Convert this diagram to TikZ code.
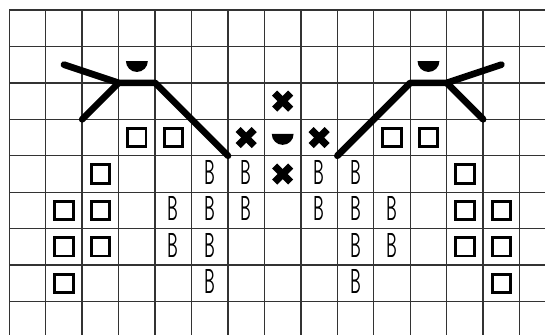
\documentclass[tikz,border=0pt]{standalone}
\usepackage{fontspec}

\begin{document}
\begin{tikzpicture}[
		gridline/.style={line width=1.1pt, black!80},
		heavy/.style={line width=5.2pt, line cap=round, line join=round},
		sq/.style={draw, line width=2.3pt, minimum size=0.5cm, inner sep=0pt},
		bee/.style={font=\sffamily\fontsize{27}{27}\selectfont, xscale=.5, transform shape, inner sep=0pt, yshift=.05cm},
		xmark/.style={minimum size=0.66cm, inner sep=0pt, path picture={
			\draw[line width=5.6pt] ([shift={(-.22,-.22)}]path picture bounding box.center) -- ([shift={(.22,.22)}]path picture bounding box.center);
			\draw[line width=5.6pt] ([shift={(-.22,.22)}]path picture bounding box.center) -- ([shift={(.22,-.22)}]path picture bounding box.center);
		}},
		hdisc/.style={minimum size=0.7cm, inner sep=0pt, path picture={
			\fill ([shift={(-.3,.1)}]path picture bounding box.center) arc[start angle=180, end angle=360, radius=.3] -- cycle;
		}}
	]
		\useasboundingbox (-0.255,0.274) rectangle (14.697,-8.916);
		\clip (-0.255,0.274) rectangle (14.697,-8.916);
		\foreach \c in {0,...,14}
			\draw[gridline] (\c,0) -- (\c,-9.5);
		\foreach \r in {0,...,8}
			\draw[gridline] (0,-\r) -- (15.5,-\r);
		\foreach \c/\r in {3/3,4/3,10/3,11/3,2/4,12/4,1/5,2/5,12/5,13/5,1/6,2/6,12/6,13/6,1/7,13/7}
			\node[sq] (sq\c-\r) at (\c+.5,-\r-.5) {};
		\foreach \c/\r in {5/4,6/4,8/4,9/4,4/5,5/5,6/5,8/5,9/5,10/5,4/6,5/6,9/6,10/6,5/7,9/7}
			\node[bee] (b\c-\r) at (\c+.5,-\r-.5) {B};
		\foreach \c/\r in {7/2,6/3,8/3,7/4}
			\node[xmark] (x\c-\r) at (\c+.5,-\r-.5) {};
		\foreach \c/\r in {3/1,11/1,7/3}
			\node[hdisc] (hd\c-\r) at (\c+.5,-\r-.5) {};
		\coordinate (la) at (1.5,-1.5);
		\coordinate (lb) at (3,-2);
		\coordinate (lc) at (4,-2);
		\coordinate (ld) at (2,-3);
		\coordinate (le) at (6,-4);
		\coordinate (ra) at (13.5,-1.5);
		\coordinate (rb) at (12,-2);
		\coordinate (rc) at (11,-2);
		\coordinate (rd) at (13,-3);
		\coordinate (re) at (9,-4);
		\draw[heavy] (la) -- (lb) -- (lc) -- (le);
		\draw[heavy] (lb) -- (ld);
		\draw[heavy] (ra) -- (rb) -- (rc) -- (re);
		\draw[heavy] (rb) -- (rd);
\end{tikzpicture}
\end{document}
